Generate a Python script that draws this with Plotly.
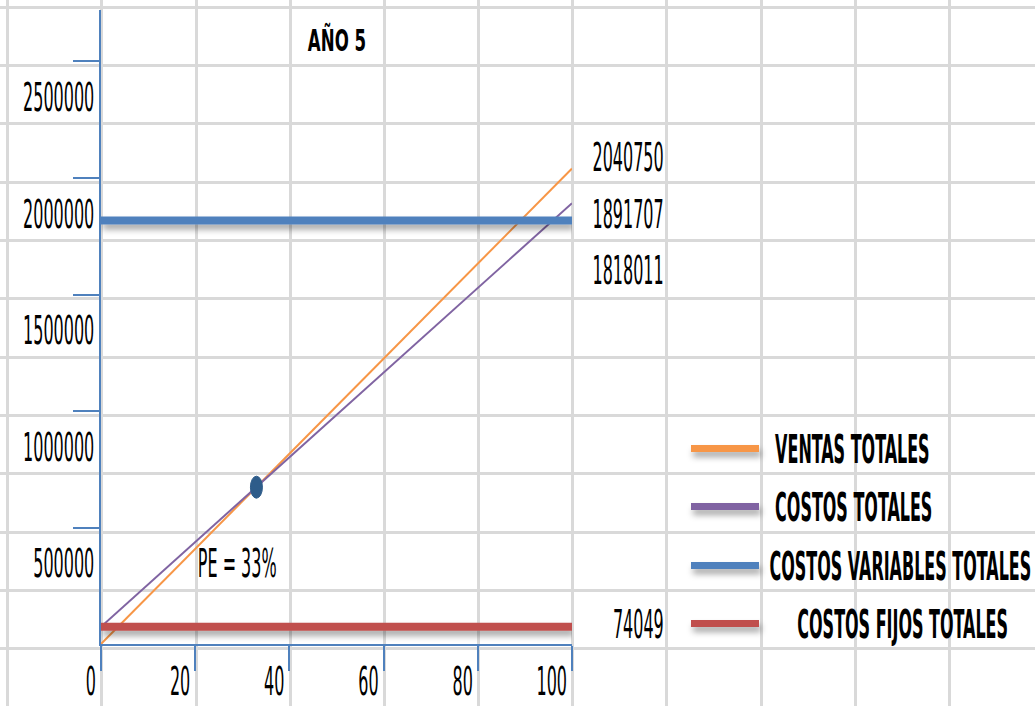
import plotly.graph_objects as go

# Break-even chart, year 5
pct = [0, 100]
ventas_totales = [0, 2040750]
costos_totales = [74049, 1891707]
costos_variables = [1818011, 1818011]
costos_fijos = [74049, 74049]

pe_x = 33
pe_y = 673000
pe_label = "PE = 33%"

x_ticks = [0, 20, 40, 60, 80, 100]
y_ticks = [500000, 1000000, 1500000, 2000000, 2500000]
y_tick_text = ["500000", "1000000", "1500000", "2000000", "2500000"]

series_names = ["VENTAS TOTALES", "COSTOS TOTALES",
                "COSTOS VARIABLES TOTALES", "COSTOS FIJOS TOTALES"]
series_colors = ["#f79646", "#8064a2", "#4f81bd", "#c0504d"]
# leading no-break spaces keep the legend labels clear of the line samples
legend_pad = [2, 2, 1, 6]

FONT = "DejaVu Sans Condensed, DejaVu Sans, sans-serif"
W, H = 1035, 706
BLUE = "#4f81bd"

fig = go.Figure()

# sheet grid behind the chart
fig.add_trace(go.Scatter(x=[None], y=[None], xaxis="x", yaxis="y",
                         showlegend=False, hoverinfo="skip"))

series = [
    (ventas_totales, 2),
    (costos_totales, 2),
    (costos_variables, 8),
    (costos_fijos, 8),
]
for (vals, lw), color in zip(series, series_colors):
    fig.add_trace(go.Scatter(x=pct, y=vals, mode="lines", xaxis="x2", yaxis="y2",
                             line=dict(color=color, width=lw),
                             showlegend=False, hoverinfo="skip"))

# legend entries, one legend box per row
legend_rows = [449, 507, 566, 624]
for i, (name, color) in enumerate(zip(series_names, series_colors)):
    key = "legend" if i == 0 else f"legend{i + 1}"
    fig.add_trace(go.Scatter(x=[None], y=[None], mode="lines",
                             name="\u00a0" * legend_pad[i] + name,
                             xaxis="x2", yaxis="y2", legend=key,
                             line=dict(color=color, width=7)))
    fig.update_layout(**{key: dict(
        x=686 / W, xanchor="left", y=1 - legend_rows[i] / H, yanchor="middle",
        bgcolor="rgba(0,0,0,0)", itemwidth=68,
        font=dict(family=FONT, size=24, color="black", weight="bold"),
    )})

# break-even point
fig.add_shape(type="circle", xref="x2", yref="y2",
              xsizemode="pixel", ysizemode="pixel",
              xanchor=pe_x, yanchor=pe_y, x0=-6, x1=6, y0=-11, y1=11,
              fillcolor="#2e5c8a", line=dict(color="#2e5c8a", width=1))

annotations = [
    dict(x=pe_x, y=pe_y, text=pe_label, xshift=-19, yshift=-77),
    dict(x=pct[-1], y=ventas_totales[-1], text=f"{ventas_totales[-1]}",
         xshift=56, yshift=11),
    dict(x=pct[-1], y=costos_totales[-1], text=f"{costos_totales[-1]}",
         xshift=56, yshift=-12),
    dict(x=pct[-1], y=costos_variables[-1], text=f"{costos_variables[-1]}",
         xshift=56, yshift=-51),
    dict(x=pct[-1], y=costos_fijos[-1], text=f"{costos_fijos[-1]}",
         xshift=66, yshift=2),
]
for a in annotations:
    a.update(xref="x2", yref="y2", showarrow=False,
             font=dict(family=FONT, size=24, color="black"))
    fig.add_annotation(**a)

fig.update_layout(
    width=W, height=H,
    margin=dict(l=0, r=0, t=0, b=0, autoexpand=False),
    paper_bgcolor="white", plot_bgcolor="rgba(0,0,0,0)",
    font=dict(family=FONT, size=24, color="black"),
    title=dict(text="AÑO 5", x=337 / W, xanchor="center", y=1 - 41 / H,
               yanchor="middle",
               font=dict(family=FONT, size=24, color="black", weight="bold")),
    xaxis=dict(domain=[0, 1], range=[0, W], tick0=7.8, dtick=94.17,
               showgrid=True, gridcolor="#d9d9d9", gridwidth=3,
               showticklabels=False, zeroline=False, ticks="", fixedrange=True),
    yaxis=dict(domain=[0, 1], range=[H, 0], tick0=7, dtick=58.36,
               showgrid=True, gridcolor="#d9d9d9", gridwidth=3,
               showticklabels=False, zeroline=False, ticks="", fixedrange=True),
    xaxis2=dict(domain=[101 / W, 572 / W], range=[0, 100], anchor="y2",
                tickvals=x_ticks, ticks="outside", ticklen=25, tickwidth=2,
                tickcolor=BLUE, showline=True, linecolor=BLUE, linewidth=2,
                showgrid=False, zeroline=False,
                ticklabelposition="outside left", ticklabelshift=-3,
                ticklabelstandoff=15),
    yaxis2=dict(domain=[(H - 644) / H, (H - 10) / H], range=[0, 2721000],
                anchor="x2", tickvals=y_ticks, ticktext=y_tick_text,
                ticks="outside", ticklen=26, tickwidth=2, tickcolor=BLUE,
                showline=True, linecolor=BLUE, linewidth=2,
                showgrid=False, zeroline=False,
                ticklabelshift=36, ticklabelstandoff=-26),
)

# Narrow, tall lettering: squeeze every label horizontally and stretch it
# vertically, pinned at its own text anchor.  Thick strokes (the two flat
# cost lines and the legend samples) get a soft drop shadow.
post = """
var gd = document.getElementById('{plot_id}');
gd.querySelectorAll('svg text').forEach(function (t) {
  if (!t.textContent.trim()) return;
  var isTitle = t.classList.contains('gtitle');
  var sx = isTitle ? 0.77 : 0.74, sy = isTitle ? 1.24 : 1.66;
  var b = t.getBBox();
  var anchor = t.getAttribute('text-anchor') || 'start';
  var cx = anchor === 'end' ? b.x + b.width
         : anchor === 'middle' ? b.x + b.width / 2 : b.x;
  var cy = b.y + b.height / 2;
  var tr = t.getAttribute('transform') || '';
  t.setAttribute('transform', tr + ' translate(' + cx + ',' + cy + ') scale(' +
                 sx + ',' + sy + ') translate(' + (-cx) + ',' + (-cy) + ')');
});

var ns = 'http://www.w3.org/2000/svg';
var defs = gd.querySelector('defs');
var flt = document.createElementNS(ns, 'filter');
flt.setAttribute('id', 'line-shadow');
flt.setAttribute('filterUnits', 'userSpaceOnUse');
flt.setAttribute('x', '-3000'); flt.setAttribute('y', '-3000');
flt.setAttribute('width', '6000'); flt.setAttribute('height', '6000');
var ds = document.createElementNS(ns, 'feDropShadow');
ds.setAttribute('dx', '2'); ds.setAttribute('dy', '5');
ds.setAttribute('stdDeviation', '3');
ds.setAttribute('flood-color', '#000'); ds.setAttribute('flood-opacity', '0.35');
flt.appendChild(ds);
defs.appendChild(flt);
gd.querySelectorAll('.scatterlayer path.js-line').forEach(function (p) {
  if (parseFloat(p.style.strokeWidth) >= 6) p.setAttribute('filter', 'url(#line-shadow)');
});
gd.querySelectorAll('.legendlines path').forEach(function (p) {
  p.setAttribute('filter', 'url(#line-shadow)');
});
"""

fig.write_html("out.html", post_script=post)
